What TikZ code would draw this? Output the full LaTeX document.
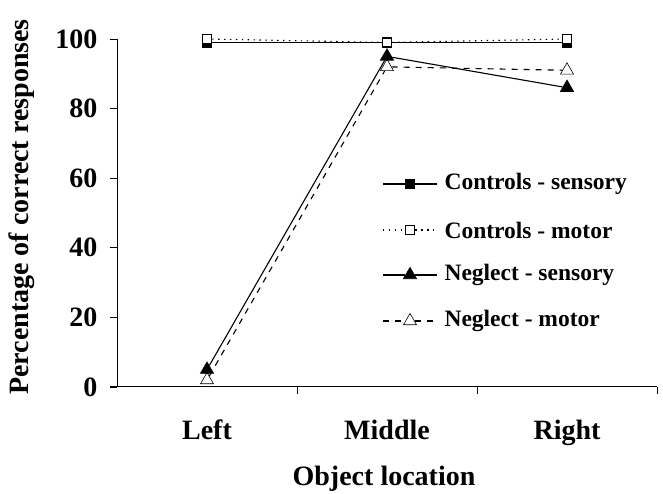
\documentclass[tikz,border=0pt]{standalone}
\usepackage{fontspec}
\setmainfont{Liberation Serif}
\usetikzlibrary{shapes.geometric}
\newcommand{\lab}{\bfseries\fontsize{28}{32}\selectfont}
\newcommand{\legitem}[5]{\coordinate (#5a) at (383,#1);
\node[#2] (#5m) at (410,#1) {};
\coordinate (#5b) at (437,#1);
\node[anchor=west, font=\bfseries\fontsize{23.5}{27}\selectfont] (#5t) at (441,#1) {#4};
\draw[#3] (#5a) -- (#5m) -- (#5b);}
\tikzset { mk/.style={inner sep=0pt, draw=black, line width=0.8pt},
  sqfull/.style={mk, rectangle, minimum size=9pt, fill=black},
  sqopen/.style={mk, rectangle, minimum size=9pt, fill=white, line width=1.6pt},
  trifull/.style={mk, regular polygon, regular polygon sides=3, minimum size=15pt, fill=black},
  triopen/.style={mk, regular polygon, regular polygon sides=3, minimum size=15pt, fill=white, line width=0.6pt},
  serie/.style={line width=1.1pt},
  pointille/.style={serie, dash pattern=on 1.4pt off 4.5pt},
  tirets/.style={serie, dash pattern=on 6pt off 6pt} }

\begin{document}
\begin{tikzpicture}[x=1pt, y=1pt]
  \useasboundingbox (0,0) rectangle (663,494);
  \node[rotate=90, font=\lab] (ylab) at (22,287) {Percentage of correct responses};
  \node[font=\lab, anchor=base] (xlab) at (384,8) {Object location};
  \node[font=\lab, anchor=base] (cl) at (207,54) {Left};
  \node[font=\lab, anchor=base] (cm) at (387,54) {Middle};
  \node[font=\lab, anchor=base] (cr) at (567,54) {Right};
  \begin{scope}[shift={(117,107)}, y=3.48pt]
	\draw[line width=0.7pt] (0,0) -- (0,100);
	\draw[line width=1pt] (-7pt,0) -- (540,0);
	\foreach \v in {0,20,...,100} {
	  \draw[line width=0.7pt] (-7pt,\v) -- (0,\v);
	  \node[anchor=east, font=\lab] at (-16pt,\v) {\v};
	}
	\foreach \x in {180,360,540} \draw[line width=0.8pt] (\x,0) -- ++(0,-7pt);
	% controls
	\node[sqfull] (cs1) at (90,99) {};
	\node[sqfull] (cs2) at (270,99) {};
	\node[sqfull] (cs3) at (450,99) {};
	\node[sqopen] (cm1) at (90,100) {};
	\node[sqopen] (cm2) at (270,99) {};
	\node[sqopen] (cm3) at (450,100) {};
	\draw[serie] (cs1) -- (cs2) -- (cs3);
	\draw[pointille] (cm1) -- (cm2) -- (cm3);
	% neglect
	\node[triopen] (nm1) at (90,2) {};
	\node[triopen] (nm2) at (270,92) {};
	\node[triopen] (nm3) at (450,91) {};
	\node[trifull] (ns1) at (90,5) {};
	\node[trifull] (ns2) at (270,95) {};
	\node[trifull] (ns3) at (450,86) {};
	\draw[serie] (ns1) -- (ns2) -- (ns3);
	\draw[tirets] (nm1) -- (nm2) -- (nm3);
  \end{scope}
  % legende
  \legitem{310}{sqfull}{serie}{Controls - sensory}{la}
  \legitem{264}{sqopen}{pointille}{Controls - motor}{lb}
  \legitem{219}{trifull}{serie}{Neglect - sensory}{lc}
  \legitem{173}{triopen}{tirets}{Neglect - motor}{ld}
\end{tikzpicture}
\end{document}
